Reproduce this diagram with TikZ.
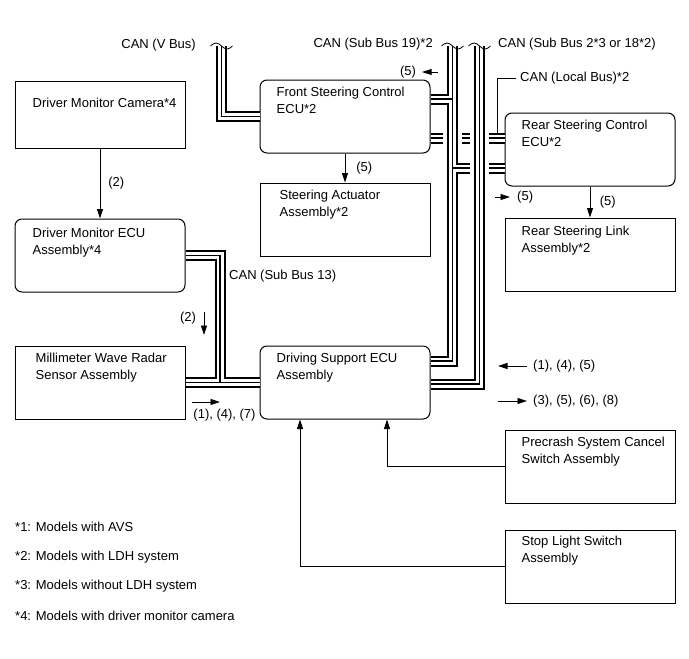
\documentclass[tikz,border=0pt]{standalone}
\usepackage{fontspec}
\setmainfont{Liberation Sans}
\usetikzlibrary{arrows.meta}
\tikzset{
  box/.style={draw, line width=1pt, minimum width=170pt, minimum height=73pt, inner sep=0pt},
  rbox/.style={box, rounded corners=7pt},
  txt/.style={anchor=north west, align=left, inner sep=0pt, font=\fontsize{13}{17}\selectfont},
  lbl/.style={inner sep=0pt, font=\fontsize{13}{17}\selectfont},
  sig/.style={line width=0.8pt, -{Triangle[length=9.5pt,width=6pt]}},
  tap/.style={line width=0.8pt},
  brk/.style={line width=0.8pt},
  cover/.style={white, line width=19pt},
}
\begin{document}
\begin{tikzpicture}[x=1pt, y=-1pt]
\useasboundingbox (0,0) rectangle (689,659);

%% ─── ECUs, sensors and switches ─────────────────────────────────────────────
\node[box, minimum height=67pt] (cam) at (100,114.5) {};
\node[rbox] (dmecu) at (100,255.5) {};
\node[box]  (mwr)   at (100,382.5) {};
\node[rbox] (fecu)  at (345,116.5) {};
\node[box]  (act)   at (345,219.5) {};
\node[rbox] (recu)  at (590,149.5) {};
\node[box]  (link)  at (590,254.5) {};
\node[rbox] (dsecu) at (345,382.5) {};
\node[box]  (pcs)   at (590,466.5) {};
\node[box]  (stop)  at (590,566.5) {};

\node[txt] (cam-t)   at ([shift={(18,17.3)}]cam.north west)   {Driver Monitor Camera*4};
\node[txt] (dmecu-t) at ([shift={(18,9.3)}]dmecu.north west)  {Driver Monitor ECU\\Assembly*4};
\node[txt] (mwr-t)   at ([shift={(21,7.3)}]mwr.north west)    {Millimeter Wave Radar\\Sensor Assembly};
\node[txt] (fecu-t)  at ([shift={(17,7.8)}]fecu.north west)   {Front Steering Control\\ECU*2};
\node[txt] (act-t)   at ([shift={(20,7.3)}]act.north west)    {Steering Actuator\\Assembly*2};
\node[txt] (recu-t)  at ([shift={(17,7.8)}]recu.north west)   {Rear Steering Control\\ECU*2};
\node[txt] (link-t)  at ([shift={(17,8)}]link.north west)     {Rear Steering Link\\Assembly*2};
\node[txt] (dsecu-t) at ([shift={(17,7.3)}]dsecu.north west)  {Driving Support ECU\\Assembly};
\node[txt] (pcs-t)   at ([shift={(17,7.5)}]pcs.north west)    {Precrash System Cancel\\Switch Assembly};
\node[txt] (stop-t)  at ([shift={(17,6.3)}]stop.north west)   {Stop Light Switch\\Assembly};

%% ─── Signal lines ───────────────────────────────────────────────────────────
\draw[sig] (cam) -- (dmecu) node[lbl, midway, right=8pt] (l2a) {(2)};
\draw[sig] (fecu) -- (act) node[lbl, midway, right=11pt] (l5b) {(5)};
\draw[sig] (recu) -- (link) node[lbl, midway, right=9.5pt] (l5c) {(5)};
\draw[sig] (pcs.west) -| ([xshift=42pt]dsecu.south);
\draw[sig] (stop.west) -| ([xshift=-45pt]dsecu.south);

% loose arrows next to the buses
\node[lbl] (l5a) at (408,72) {(5)};
\coordinate (a5a) at (438,72);
\draw[sig] (a5a) -- ([xshift=6pt]l5a.east);

\node[lbl, anchor=west] (l5d) at (517,197) {(5)};
\draw[sig] ([xshift=-22pt]l5d.west) -- ([xshift=-7pt]l5d.west);

\node[lbl] (l2b) at (188,318) {(2)};
\coordinate (a2b-s) at (204,312);
\coordinate (a2b-e) at (204,335);
\draw[sig] (a2b-s) -- (a2b-e);

\node[lbl] (l147) at (224.5,415) {(1), (4), (7)};
\coordinate (a147-s) at (192,402);
\coordinate (a147-e) at (220,402);
\draw[sig] (a147-s) -- (a147-e);

\node[lbl, anchor=west] (l145) at (533,366) {(1), (4), (5)};
\draw[sig] ([xshift=-6pt]l145.west) -- ([xshift=-35pt]l145.west);
\node[lbl, anchor=west] (l3568) at (533,401) {(3), (5), (6), (8)};
\draw[sig] ([xshift=-35pt]l3568.west) -- ([xshift=-6pt]l3568.west);

%% ─── CAN labels ─────────────────────────────────────────────────────────────
\node[lbl, anchor=east] (vbusl) at (196,45) {CAN (V Bus)};
\node[lbl, anchor=east] (sb19l) at (433,44) {CAN (Sub Bus 19)*2};
\node[lbl, anchor=west] (sb2l)  at (498,44) {CAN (Sub Bus 2*3 or 18*2)};
\node[lbl, anchor=west] (lbusl) at (520,78) {CAN (Local Bus)*2};
\node[lbl, anchor=west] (sb13l) at (229,276) {CAN (Sub Bus 13)};

%% ─── Bus coordinates ────────────────────────────────────────────────────────
\coordinate (vbtop)   at (221.5,46);
\coordinate (sb19top) at (452.5,46);
\coordinate (sb2top)  at (479.5,46);
\coordinate (sb13)    at (220,382.5);
\coordinate (lbtap)   at (497,138);
\coordinate (fb)  at ([yshift=17.5pt]fecu.east);
\coordinate (rb)  at ([yshift=-18.5pt]recu.west);
\coordinate (dsb) at ([yshift=21.5pt]dsecu.east);
\coordinate (dsc) at ([yshift=-1.5pt]dsecu.east);

%% ─── Local bus (behind the sub buses) ───────────────────────────────────────
\draw[tap] (lbtap) |- ([xshift=-4pt]lbusl.west);
\foreach \w/\c in {11pt/black, 7pt/white, 1.2pt/black}
  \draw[line width=\w, \c] ([yshift=-21.5pt]fecu.east) -- ([yshift=11.5pt]recu.west);

%% ─── Sub bus 19 ─────────────────────────────────────────────────────────────
\draw[cover] (sb19top) -- (sb19top |- dsb);
\foreach \w/\c in {11pt/black, 7pt/white, 1.2pt/black} {
  \draw[line width=\w, \c] (sb19top) |- (dsb);
  \draw[line width=\w, \c] (sb19top |- fb) -- (fb);
  \draw[line width=\w, \c] (sb19top |- rb) -- (rb);
}

%% ─── Sub bus 2 / 18 ─────────────────────────────────────────────────────────
\draw[cover] (sb2top) -- (sb2top |- dsc);
\foreach \w/\c in {11pt/black, 7pt/white, 1.2pt/black}
  \draw[line width=\w, \c] (sb2top) |- (dsc);

%% ─── V bus and sub bus 13 ───────────────────────────────────────────────────
\foreach \w/\c in {11pt/black, 7pt/white, 1.2pt/black} {
  \draw[line width=\w, \c] (vbtop) |- (fecu.west);
  \draw[line width=\w, \c] (dmecu.east) -| (sb13);
  \draw[line width=\w, \c] (mwr.east) -- (dsecu.west);
}

% break marks on the bus ends
\foreach \cx in {221.5, 452.5, 479.5}
  \draw[brk] (\cx-11,46) sin (\cx-5.5,43) cos (\cx,46) sin (\cx+5.5,49) cos (\cx+11,46);

%% ─── Notes ──────────────────────────────────────────────────────────────────
\foreach \i/\y/\t in {1/527/Models with AVS, 2/557/Models with LDH system,
                      3/586/Models without LDH system, 4/616/Models with driver monitor camera}
  \node[lbl, anchor=west] (note\i) at (15,\y) {*\i: \t};

\end{tikzpicture}
\end{document}
